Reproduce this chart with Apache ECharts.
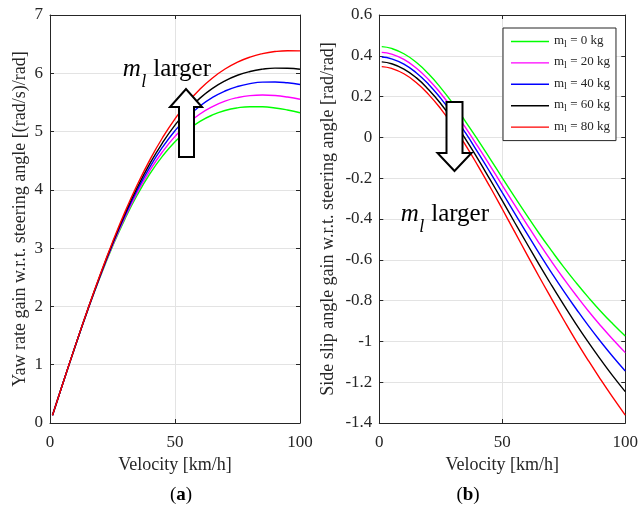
<!DOCTYPE html>
<html>
<head>
<meta charset="utf-8">
<script src="https://cdn.jsdelivr.net/npm/echarts@6/dist/echarts.min.js"></script>
<style>
html,body{margin:0;padding:0;background:#fff;}
#chart{width:641px;height:510px;}
</style>
</head>
<body>
<div id="chart"></div>
<script>
// ---- data ----
const velocity = [1,5,10,15,20,25,30,35,40,45,50,55,60,65,70,75,80,85,90,95,100];
const massLabels = ['m_l = 0 kg','m_l = 20 kg','m_l = 40 kg','m_l = 60 kg','m_l = 80 kg'];
const seriesColors = ['#00ff00','#ff00ff','#0000ff','#000000','#ff0000'];

const yaw0  = [0.132,0.660,1.305,1.922,2.499,3.029,3.503,3.920,4.278,4.579,4.826,5.022,5.174,5.285,5.361,5.407,5.427,5.425,5.405,5.370,5.323];
const yaw20 = [0.132,0.660,1.306,1.926,2.509,3.046,3.532,3.962,4.336,4.654,4.918,5.133,5.302,5.430,5.523,5.583,5.617,5.627,5.618,5.592,5.554];
const yaw40 = [0.132,0.660,1.307,1.930,2.519,3.065,3.562,4.006,4.396,4.732,5.015,5.250,5.439,5.586,5.696,5.774,5.823,5.848,5.851,5.837,5.808];
const yaw60 = [0.132,0.660,1.309,1.935,2.528,3.082,3.590,4.048,4.454,4.808,5.111,5.365,5.574,5.741,5.870,5.966,6.031,6.071,6.089,6.087,6.069];
const yaw80 = [0.132,0.660,1.310,1.939,2.539,3.102,3.622,4.095,4.519,4.894,5.219,5.497,5.729,5.920,6.073,6.191,6.278,6.337,6.373,6.387,6.384];

const slip0  = [0.445,0.436,0.410,0.368,0.312,0.243,0.165,0.079,-0.011,-0.104,-0.198,-0.291,-0.382,-0.471,-0.555,-0.636,-0.712,-0.784,-0.852,-0.915,-0.974];
const slip20 = [0.417,0.408,0.382,0.340,0.284,0.215,0.136,0.049,-0.043,-0.138,-0.235,-0.331,-0.426,-0.519,-0.608,-0.693,-0.774,-0.851,-0.923,-0.991,-1.055];
const slip40 = [0.394,0.385,0.359,0.317,0.261,0.191,0.111,0.023,-0.072,-0.170,-0.271,-0.371,-0.471,-0.568,-0.663,-0.754,-0.840,-0.923,-1.001,-1.075,-1.145];
const slip60 = [0.370,0.361,0.335,0.293,0.235,0.165,0.083,-0.007,-0.104,-0.206,-0.310,-0.416,-0.520,-0.624,-0.724,-0.821,-0.915,-1.004,-1.089,-1.170,-1.246];
const slip80 = [0.347,0.338,0.312,0.269,0.211,0.140,0.056,-0.037,-0.137,-0.242,-0.351,-0.462,-0.573,-0.683,-0.790,-0.895,-0.997,-1.094,-1.187,-1.276,-1.361];

const xTicks = [0, 50, 100];
const yawTicks = [0,1,2,3,4,5,6,7];
const slipTicks = [-1.4,-1.2,-1,-0.8,-0.6,-0.4,-0.2,0,0.2,0.4,0.6];

const xName = 'Velocity [km/h]';
const yawName = 'Yaw rate gain w.r.t. steering angle [(rad/s)/rad]';
const slipName = 'Side slip angle gain w.r.t. steering angle [rad/rad]';

// ---- chart ----
const FONT = "'Liberation Serif','Times New Roman',serif";
const AX = '#262626';
const GRID = '#e3e3e3';
const yawSets = [yaw0, yaw20, yaw40, yaw60, yaw80];
const slipSets = [slip0, slip20, slip40, slip60, slip80];

function fmt(v){ return String(+(+v).toFixed(1)); }

function xAxisDef(gridIndex, pos, show){
  return {
    type:'value', gridIndex, position:pos,
    min:xTicks[0], max:xTicks[xTicks.length-1], interval:xTicks[1]-xTicks[0],
    name: show ? xName : '', nameLocation:'middle', nameGap:32,
    nameTextStyle:{fontFamily:FONT,fontSize:18,color:AX},
    axisLine:{show:true,onZero:false,lineStyle:{color:AX,width:1}},
    axisTick:{show:true,inside:true,length:4,lineStyle:{color:AX}},
    axisLabel:{show:show,fontFamily:FONT,fontSize:17,color:AX,margin:11,formatter:fmt},
    splitLine:{show:show,lineStyle:{color:GRID,width:1}}
  };
}
function yAxisDef(gridIndex, pos, show, ticks, name, gap){
  return {
    type:'value', gridIndex, position:pos,
    min:ticks[0], max:ticks[ticks.length-1], interval:+(ticks[1]-ticks[0]).toFixed(2),
    name: show ? name : '', nameLocation:'middle', nameGap:gap,
    nameTextStyle:{fontFamily:FONT,fontSize:18,color:AX},
    axisLine:{show:true,onZero:false,lineStyle:{color:AX,width:1}},
    axisTick:{show:true,inside:true,length:4,lineStyle:{color:AX}},
    axisLabel:{show:show,fontFamily:FONT,fontSize:17,color:AX,margin:7,formatter:fmt},
    splitLine:{show:show,lineStyle:{color:GRID,width:1}}
  };
}

const series = [];
for (let i=0;i<5;i++){
  series.push({
    name:massLabels[i], type:'line', xAxisIndex:0, yAxisIndex:0,
    data: velocity.map((v,j)=>[v, yawSets[i][j]]),
    smooth:true, symbol:'none', showSymbol:false, z:2+i,
    lineStyle:{color:seriesColors[i],width:1.4}, itemStyle:{color:seriesColors[i]}
  });
}
for (let i=0;i<5;i++){
  series.push({
    name:massLabels[i], type:'line', xAxisIndex:2, yAxisIndex:2,
    data: velocity.map((v,j)=>[v, slipSets[i][j]]),
    smooth:true, symbol:'none', showSymbol:false, z:2+i,
    lineStyle:{color:seriesColors[i],width:1.4}, itemStyle:{color:seriesColors[i]}
  });
}

function annot(x, yBase){
  return [
    {type:'text', z:100, x:x, y:yBase, style:{text:'m', fontFamily:FONT, fontStyle:'italic', fontSize:25, fill:'#000', align:'left', verticalAlign:'bottom'}},
    {type:'text', z:100, x:x+18.6, y:yBase+10, style:{text:'l', fontFamily:FONT, fontStyle:'italic', fontSize:18, fill:'#000', align:'left', verticalAlign:'bottom'}},
    {type:'text', z:100, x:x+30.5, y:yBase, style:{text:'larger', fontFamily:FONT, fontSize:25, fill:'#000', align:'left', verticalAlign:'bottom'}}
  ];
}
const capRich = {
  p:{fontFamily:FONT,fontSize:19,color:'#000'},
  b:{fontFamily:FONT,fontSize:19,fontWeight:'bold',color:'#000'}
};
function arrowUp(){
  return [[179,157],[179,107],[170,107],[186,89],[202,107],[194,107],[194,157]];
}
function arrowDown(){
  return [[446.5,102],[462.5,102],[462.5,153],[471.5,153],[454.5,171],[437.5,153],[446.5,153]];
}

const option = {
  animation:false,
  backgroundColor:'#fff',
  grid:[
    {left:50, top:15, width:250, height:408, containLabel:false},
    {left:379.3, top:15, width:250, height:408, containLabel:false}
  ],
  xAxis:[
    xAxisDef(0,'bottom',true), xAxisDef(0,'top',false),
    xAxisDef(1,'bottom',true), xAxisDef(1,'top',false)
  ],
  yAxis:[
    yAxisDef(0,'left',true,yawTicks,yawName,21), yAxisDef(0,'right',false,yawTicks,'',0),
    yAxisDef(1,'left',true,slipTicks,slipName,42), yAxisDef(1,'right',false,slipTicks,'',0)
  ],
  legend:{
    orient:'vertical', left:503, top:28,
    data:massLabels,
    padding:[6,6,6,8], itemGap:6.4, itemWidth:38, itemHeight:14,
    backgroundColor:'#fff', borderColor:AX, borderWidth:1, borderRadius:0,
    selectedMode:false,
    icon:'path://M0,6.3 L38,6.3 L38,7.7 L0,7.7 Z M0,0 L0,14 M38,0 L38,14',
    itemStyle:{borderWidth:0},
    formatter: n => '{m|m}{s|l}{t|' + n.slice(3) + '}',
    textStyle:{
      fontFamily:FONT, fontSize:13, color:AX,
      rich:{
        m:{fontFamily:FONT,fontSize:13,lineHeight:15,verticalAlign:'top',color:AX},
        s:{fontFamily:FONT,fontSize:10,lineHeight:15,verticalAlign:'bottom',color:AX},
        t:{fontFamily:FONT,fontSize:13,lineHeight:15,verticalAlign:'top',color:AX}
      }
    }
  },
  graphic:[
    {type:'polygon', z:100, shape:{points:arrowUp()}, style:{fill:'#fff',stroke:'#000',lineWidth:2}},
    {type:'polygon', z:100, shape:{points:arrowDown()}, style:{fill:'#fff',stroke:'#000',lineWidth:2}},
    ...annot(122.7, 81.5),
    ...annot(400.7, 226.5),
    {type:'text', z:100, x:181, y:495, style:{text:'{p|(}{b|a}{p|)}', rich:capRich, align:'center', verticalAlign:'middle'}},
    {type:'text', z:100, x:468, y:495, style:{text:'{p|(}{b|b}{p|)}', rich:capRich, align:'center', verticalAlign:'middle'}}
  ],
  series
};

const chart = echarts.init(document.getElementById('chart'), null, {renderer:'canvas'});
chart.setOption(option);
</script>
</body>
</html>
